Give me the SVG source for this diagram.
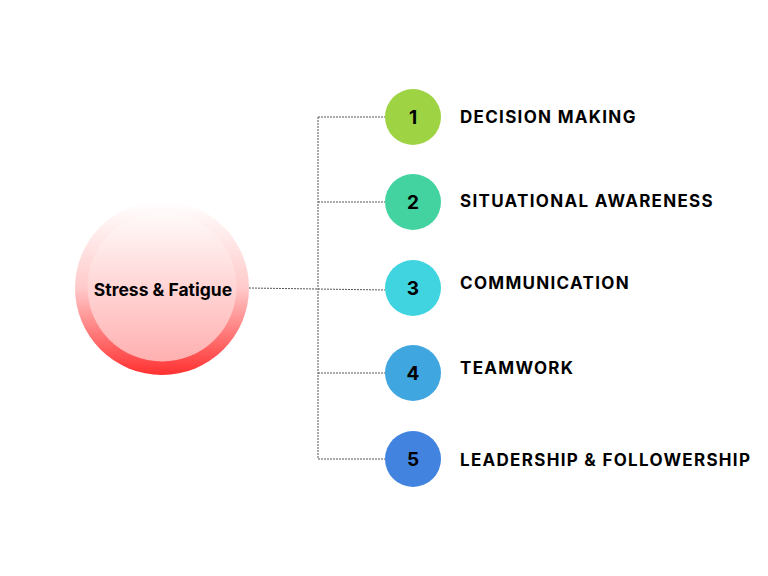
<svg xmlns="http://www.w3.org/2000/svg" width="768" height="576" viewBox="0 0 768 576">
<defs>
<linearGradient id="go" x1="0" y1="0" x2="0" y2="1"><stop offset="0" stop-color="#fff"/><stop offset="0.5" stop-color="#ffcaca"/><stop offset="1" stop-color="#ff3030"/></linearGradient>
<linearGradient id="gi" x1="0" y1="0" x2="0" y2="1"><stop offset="0" stop-color="#fffafa"/><stop offset="1" stop-color="#ffb0b0"/></linearGradient>
</defs>
<style>
.c{fill:none;stroke:#555;stroke-width:1;stroke-dasharray:2 1}
.n{font-family:Inter,"Liberation Sans",sans-serif;font-weight:bold;font-size:19px;text-anchor:middle;fill:#000}
.l{font-family:Inter,"Liberation Sans",sans-serif;font-weight:bold;font-size:17px;letter-spacing:1.3px;fill:#000}
</style>
<g id="connectors">
<path class="c" d="M249 288 L385 290"/>
<path class="c" d="M318 117 V459"/>
<path class="c" d="M318 117 H385 M318 202 H385 M318 373 H385 M318 459 H385"/>
</g>
<g id="center">
<circle cx="162" cy="288" r="87" fill="url(#go)"/>
<circle cx="162" cy="287" r="74.5" fill="url(#gi)"/>
<text x="163" y="296" font-family="Inter,'Liberation Sans',sans-serif" font-weight="bold" font-size="17.5" text-anchor="middle">Stress &amp; Fatigue</text>
</g>
<g id="n1"><circle cx="413" cy="117" r="28" fill="#9ed443"/><text class="n" x="413" y="124">1</text><text class="l" x="460" y="123">DECISION MAKING</text></g>
<g id="n2"><circle cx="413" cy="202" r="28" fill="#42d3a1"/><text class="n" x="413" y="209">2</text><text class="l" x="460" y="207">SITUATIONAL AWARENESS</text></g>
<g id="n3"><circle cx="413" cy="288" r="28" fill="#40d4e0"/><text class="n" x="413" y="295">3</text><text class="l" x="460" y="289">COMMUNICATION</text></g>
<g id="n4"><circle cx="413" cy="373" r="28" fill="#40a6e0"/><text class="n" x="413" y="380">4</text><text class="l" x="460" y="374">TEAMWORK</text></g>
<g id="n5"><circle cx="413" cy="459" r="28" fill="#4283e0"/><text class="n" x="413" y="466">5</text><text class="l" x="460" y="466">LEADERSHIP &amp; FOLLOWERSHIP</text></g>
</svg>
